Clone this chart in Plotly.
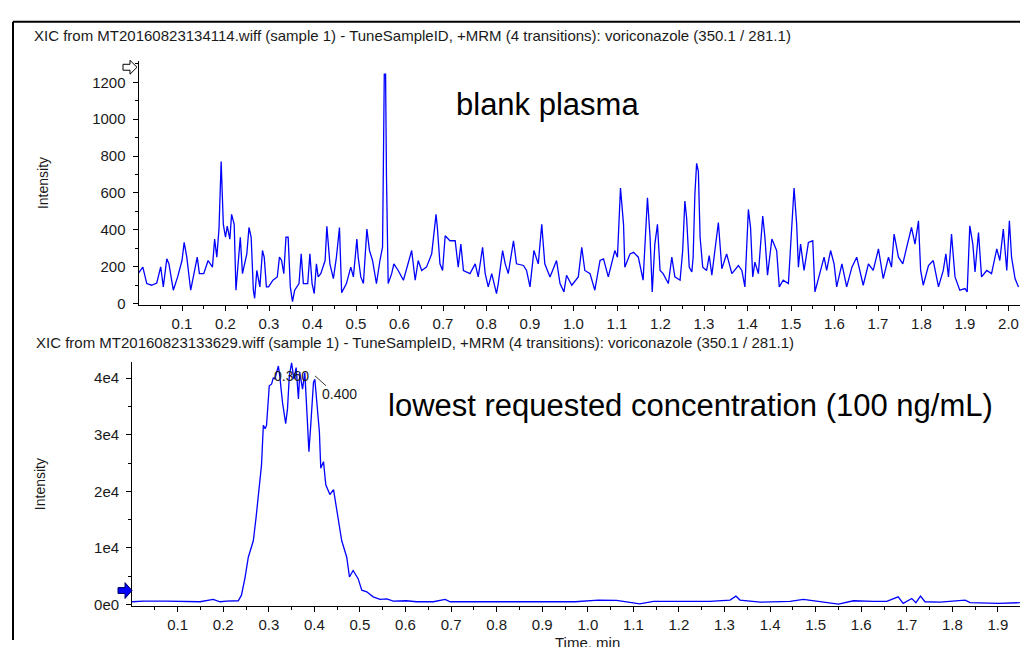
import plotly.graph_objects as go

# ---------------- data ----------------
# blank plasma XIC
t_blank = [0.000, 0.010, 0.019, 0.030, 0.042, 0.051, 0.057, 0.065, 0.070, 0.080, 0.090, 0.100, 0.105, 0.111,
           0.120, 0.130, 0.135, 0.140, 0.150, 0.160, 0.170, 0.175, 0.180, 0.185, 0.190, 0.195, 0.200, 0.204,
           0.210, 0.214, 0.220, 0.224, 0.229, 0.234, 0.239, 0.249, 0.254, 0.259, 0.264, 0.267, 0.272, 0.279,
           0.285, 0.289, 0.294, 0.299, 0.309, 0.319, 0.324, 0.329, 0.334, 0.339, 0.344, 0.349, 0.354, 0.359,
           0.369, 0.374, 0.379, 0.389, 0.394, 0.399, 0.404, 0.409, 0.413, 0.419, 0.429, 0.433,
           0.440, 0.448, 0.455, 0.462, 0.467, 0.478, 0.488, 0.494, 0.502, 0.505, 0.511, 0.517, 0.525, 0.531,
           0.538, 0.547, 0.555, 0.561, 0.563, 0.565, 0.568, 0.570, 0.574, 0.582, 0.587, 0.597, 0.609, 0.620,
           0.628, 0.636, 0.643, 0.651, 0.662, 0.674, 0.684, 0.687, 0.693, 0.699, 0.705, 0.716, 0.728, 0.735,
           0.741, 0.747, 0.762, 0.774, 0.781, 0.791, 0.797, 0.804, 0.812, 0.823, 0.827, 0.837, 0.843, 0.850,
           0.862, 0.869, 0.885, 0.892, 0.900, 0.909, 0.919, 0.927, 0.934, 0.946, 0.961, 0.969, 0.978, 0.984,
           0.996, 1.011, 1.019, 1.026, 1.038, 1.049, 1.061, 1.069, 1.080, 1.095, 1.101, 1.108, 1.115, 1.118,
           1.130, 1.138, 1.149, 1.160, 1.170, 1.176, 1.181, 1.187, 1.193, 1.199, 1.206, 1.218, 1.226, 1.233,
           1.245, 1.251, 1.256, 1.260, 1.266, 1.272, 1.275, 1.279, 1.283, 1.287, 1.291, 1.297, 1.306, 1.312,
           1.318, 1.325, 1.333, 1.341, 1.352, 1.364, 1.379, 1.387, 1.394, 1.402, 1.407, 1.412, 1.417, 1.425,
           1.435, 1.440, 1.446, 1.456, 1.467, 1.473, 1.482, 1.494, 1.501, 1.507, 1.513, 1.517, 1.522, 1.530,
           1.540, 1.550, 1.555, 1.567, 1.576, 1.582, 1.591, 1.599, 1.605, 1.617, 1.628, 1.640, 1.651, 1.666,
           1.678, 1.689, 1.701, 1.712, 1.724, 1.731, 1.737, 1.747, 1.757, 1.766, 1.777, 1.785, 1.793, 1.798,
           1.804, 1.816, 1.827, 1.839, 1.850, 1.856, 1.862, 1.869, 1.877, 1.888, 1.900, 1.905, 1.911, 1.918,
           1.923, 1.931, 1.938, 1.950, 1.961, 1.973, 1.980, 1.988, 1.996, 2.002, 2.007, 2.015, 2.023]
i_blank = [166, 198, 109, 100, 112, 200, 91, 243, 216, 73, 145, 234, 332, 252,
           73, 180, 252, 163, 163, 234, 198, 350, 252, 404, 770, 430, 360, 420,
           350, 484, 430, 73, 234, 360, 163, 270, 413, 360, 73, 29, 180, 91,
           288, 252, 91, 91, 127, 145, 252, 234, 163, 360, 360, 91, 11, 73,
           109, 270, 109, 109, 270, 109, 55, 216, 145, 163, 234, 420,
           216, 136, 252, 413, 59, 109, 198, 145, 350, 252, 145, 109, 404, 288,
           234, 109, 234, 306, 770, 1244, 1244, 699, 109, 163, 216, 180, 127, 216,
           288, 127, 234, 180, 198, 270, 484, 413, 216, 180, 368, 341, 341, 198,
           323, 180, 163, 216, 145, 306, 163, 91, 163, 55, 109, 288, 216, 163,
           341, 216, 207, 180, 91, 288, 216, 430, 216, 145, 234, 109, 64, 154,
           100, 145, 306, 180, 163, 73, 234, 243, 145, 288, 252, 627, 430, 198,
           270, 279, 252, 127, 574, 360, 64, 323, 430, 180, 163, 109, 252, 145,
           127, 288, 556, 466, 198, 172, 252, 592, 761, 717, 360, 198, 180, 261,
           154, 288, 440, 189, 270, 163, 207, 180, 91, 511, 413, 145, 225, 163,
           475, 360, 154, 350, 288, 91, 127, 109, 360, 627, 430, 198, 323, 180,
           332, 341, 64, 163, 252, 180, 288, 216, 91, 216, 91, 198, 252, 100,
           216, 180, 297, 136, 252, 198, 377, 252, 216, 306, 413, 323, 449, 180,
           100, 207, 234, 91, 180, 270, 145, 377, 145, 73, 82, 64, 422, 323,
           172, 386, 145, 180, 163, 297, 234, 404, 180, 449, 252, 136, 91]

# lowest requested concentration XIC
t_low = [0.000, 0.025, 0.076, 0.112, 0.149, 0.178, 0.193, 0.207, 0.233, 0.240, 0.248, 0.255, 0.266, 0.272,
         0.277, 0.284, 0.288, 0.292, 0.295, 0.301, 0.306, 0.310, 0.313, 0.321, 0.324, 0.330, 0.337, 0.341,
         0.345, 0.350, 0.355, 0.360, 0.365, 0.368, 0.374, 0.379, 0.384, 0.388, 0.392, 0.398, 0.401, 0.405,
         0.411, 0.414, 0.420, 0.425, 0.434, 0.442, 0.453, 0.460, 0.471, 0.477, 0.485, 0.496, 0.504, 0.515,
         0.529, 0.544, 0.559, 0.573, 0.602, 0.624, 0.661, 0.687, 0.698, 0.734, 0.771, 0.807, 0.851, 0.932,
         0.972, 1.023, 1.063, 1.114, 1.144, 1.173, 1.268, 1.312, 1.325, 1.334, 1.378, 1.444, 1.473, 1.550,
         1.583, 1.627, 1.656, 1.681, 1.692, 1.711, 1.720, 1.730, 1.740, 1.773, 1.817, 1.828, 1.839, 1.901,
         1.948]
i_low = [466, 583, 583, 466, 466, 875, 466, 583, 641, 1630, 4840, 8340, 11250, 15330,
         19410, 24660, 31660, 31070, 31660, 38650, 38940, 40110, 39820, 42150, 40400, 35740, 31950, 34570,
         40400, 42730, 39820, 41860, 36320, 40980, 38070, 40980, 33410, 27000, 31660, 39240, 39820, 35740,
         30490, 24080, 25240, 21160, 19410, 20290, 14750, 11250, 8340, 4840, 6000, 4550, 2510, 2220,
         1340, 875, 990, 583, 641, 466, 466, 875, 466, 466, 583, 466, 466, 583,
         466, 760, 700, 100, 520, 520, 520, 760, 1460, 760, 400, 520, 875, 50,
         641, 520, 520, 1340, 175, 1050, 300, 1460, 466, 400, 760, 760, 300, 175,
         300]

# ticks / labels
top_xticks = [0.1, 0.2, 0.3, 0.4, 0.5, 0.6, 0.7, 0.8, 0.9, 1.0, 1.1, 1.2, 1.3, 1.4, 1.5, 1.6, 1.7, 1.8, 1.9, 2.0]
top_xlabels = ["0.1", "0.2", "0.3", "0.4", "0.5", "0.6", "0.7", "0.8", "0.9", "1.0",
               "1.1", "1.2", "1.3", "1.4", "1.5", "1.6", "1.7", "1.8", "1.9", "2.0"]
bot_xticks = top_xticks[:19]
bot_xlabels = top_xlabels[:19]
top_yticks = [0, 200, 400, 600, 800, 1000, 1200]
top_ylabels = ["0", "200", "400", "600", "800", "1000", "1200"]
bot_yticks = [0, 10000, 20000, 30000, 40000]
bot_ylabels = ["0e0", "1e4", "2e4", "3e4", "4e4"]

title_top = "XIC from MT20160823134114.wiff (sample 1) - TuneSampleID, +MRM (4 transitions): voriconazole (350.1 / 281.1)"
title_bot = "XIC from MT20160823133629.wiff (sample 1) - TuneSampleID, +MRM (4 transitions): voriconazole (350.1 / 281.1)"
label_top = "blank plasma"
label_bot = "lowest requested concentration (100 ng/mL)"
peak_labels = ["0.360", "0.400"]

# ---------------- figure ----------------
W, H = 1020, 647
FONT = "Liberation Sans, Arial, sans-serif"
TXT = "#1a1a1a"


def px(x):
    return x / W


def py(y):
    return 1 - y / H


fig = go.Figure()
fig.add_trace(go.Scatter(x=t_blank, y=i_blank, mode="lines", line=dict(color="#0000ff", width=1.3),
                         xaxis="x", yaxis="y", showlegend=False))
fig.add_trace(go.Scatter(x=t_low, y=i_low, mode="lines", line=dict(color="#0000ff", width=1.3),
                         xaxis="x2", yaxis="y2", showlegend=False))

axis_common = dict(showline=True, linecolor="black", linewidth=1, ticks="outside", ticklen=5,
                   tickcolor="black", showgrid=False, zeroline=False,
                   tickfont=dict(family=FONT, size=15, color=TXT), fixedrange=True)

minor_x = [round(0.05 + 0.1 * k, 2) for k in range(21)]

fig.update_layout(
    width=W, height=H, margin=dict(l=0, r=0, t=0, b=0),
    paper_bgcolor="white", plot_bgcolor="white",
    xaxis=dict(domain=[px(138.5), 1], range=[0, 2.0264], anchor="y",
               tickmode="array", tickvals=top_xticks, ticktext=top_xlabels,
               minor=dict(tickmode="array", tickvals=minor_x, ticks="outside", ticklen=3, tickcolor="black"),
               **axis_common),
    yaxis=dict(domain=[py(308), py(62)], range=[-5.4, 1313.7], anchor="x",
               tickmode="array", tickvals=top_yticks, ticktext=top_ylabels, ticklabelstandoff=4,
               minor=dict(tickmode="array", tickvals=[100, 300, 500, 700, 900, 1100, 1300],
                          ticks="outside", ticklen=3, tickcolor="black"),
               title=dict(text="Intensity", font=dict(family=FONT, size=14, color=TXT), standoff=40),
               **axis_common),
    xaxis2=dict(domain=[px(132.1), 1], range=[0, 1.9484], anchor="y2",
                tickmode="array", tickvals=bot_xticks, ticktext=bot_xlabels,
                minor=dict(tickmode="array", tickvals=minor_x, ticks="outside", ticklen=3, tickcolor="black"),
                **axis_common),
    yaxis2=dict(domain=[py(612.7), py(366)], range=[-297, 42855], anchor="x2",
                tickmode="array", tickvals=bot_yticks, ticktext=bot_ylabels, ticklabelstandoff=4,
                minor=dict(tickmode="array", tickvals=[5000, 15000, 25000, 35000],
                           ticks="outside", ticklen=3, tickcolor="black"),
                title=dict(text="Intensity", font=dict(family=FONT, size=14, color=TXT), standoff=45),
                **axis_common),
)

annotations = [
    dict(x=px(32), y=py(36), xref="paper", yref="paper", text=title_top, xanchor="left", yanchor="middle",
         showarrow=False, font=dict(family=FONT, size=15, color=TXT)),
    dict(x=px(34), y=py(346), xref="paper", yref="paper", text=title_bot, xanchor="left", yanchor="middle",
         showarrow=False, font=dict(family=FONT, size=15, color=TXT)),
    dict(x=px(547), y=py(106), xref="paper", yref="paper", text=label_top, xanchor="center", yanchor="middle",
         showarrow=False, font=dict(family=FONT, size=31, color="black")),
    dict(x=px(690), y=py(410), xref="paper", yref="paper", text=label_bot, xanchor="center", yanchor="middle",
         showarrow=False, font=dict(family=FONT, size=31, color="black")),
    dict(x=px(291), y=py(380), xref="paper", yref="paper", text=peak_labels[0], xanchor="center",
         yanchor="middle", showarrow=False, font=dict(family=FONT, size=14, color=TXT)),
    dict(x=px(339), y=py(398), xref="paper", yref="paper", text=peak_labels[1], xanchor="center",
         yanchor="middle", showarrow=False, font=dict(family=FONT, size=14, color=TXT)),
    dict(x=px(587), y=py(639), xref="paper", yref="paper", text="Time, min", xanchor="center",
         yanchor="top", showarrow=False, font=dict(family=FONT, size=15, color=TXT)),
]
fig.update_layout(annotations=annotations)


def P(x, y):
    return f"{px(x):.5f},{py(y):.5f}"


shapes = [
    # frame
    dict(type="line", xref="paper", yref="paper", x0=px(13), y0=py(22), x1=1, y1=py(22),
         line=dict(color="black", width=2)),
    dict(type="line", xref="paper", yref="paper", x0=px(13), y0=py(22), x1=px(13), y1=0,
         line=dict(color="black", width=2)),
    # connector of peak label
    dict(type="line", xref="paper", yref="paper", x0=px(315), y0=py(380), x1=px(326), y1=py(390),
         line=dict(color="#333333", width=1)),
    # outlined arrow (top)
    dict(type="path", xref="paper", yref="paper",
         path=f"M{P(123,65)} L{P(130,65)} L{P(130,61)} L{P(137,68)} L{P(130,75)} L{P(130,71)} L{P(123,71)} Z",
         fillcolor="white", line=dict(color="black", width=1)),
    # filled arrow (bottom)
    dict(type="path", xref="paper", yref="paper",
         path=f"M{P(118,594)} L{P(125,594)} L{P(125,589)} L{P(132,597)} L{P(125,605)} L{P(125,600)} L{P(118,600)} Z",
         fillcolor="#0000ff", line=dict(color="#000060", width=1)),
]
fig.update_layout(shapes=shapes)

fig.write_html("out.html", config={"displayModeBar": False},
               post_script="document.body.style.margin='0';document.body.style.overflow='hidden';")
